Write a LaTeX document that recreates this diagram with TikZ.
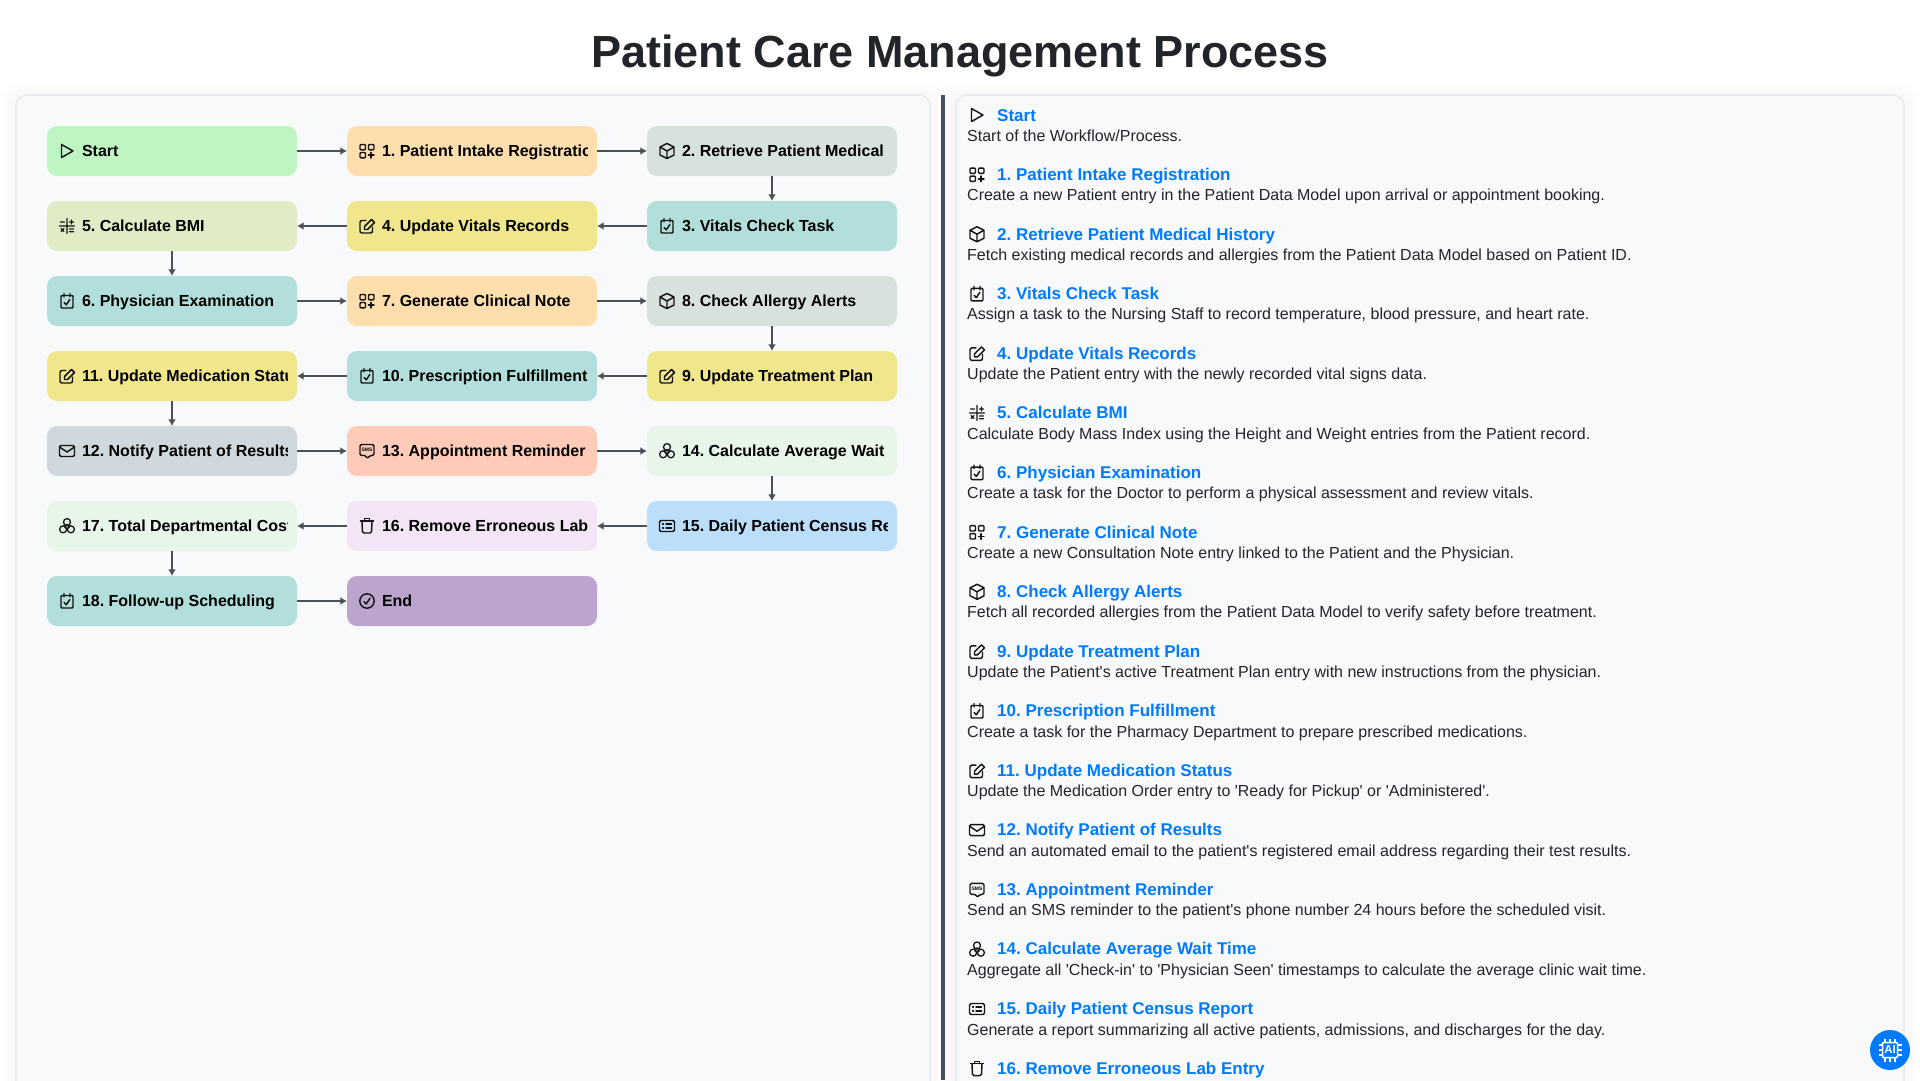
\documentclass[tikz,border=0pt]{standalone}
\usepackage{fontspec}
\usepackage{tikz}
\usetikzlibrary{arrows,arrows.meta,shapes,positioning}
\newfontfamily\uifont{Liberation Sans}
\frenchspacing

\definecolor{panelfill}{HTML}{F8F9FB}
\definecolor{panelline}{HTML}{E9EBEF}
\definecolor{flowline}{HTML}{495057}
\definecolor{divider}{HTML}{4A5064}
\definecolor{inktext}{HTML}{212529}
\definecolor{linkblue}{HTML}{007BFF}
\definecolor{startgreen}{HTML}{BFF5C3}
\definecolor{formorange}{HTML}{FFDEAD}
\definecolor{querygrey}{HTML}{D8E2DC}
\definecolor{taskteal}{HTML}{B2DFDB}
\definecolor{updatekhaki}{HTML}{F0E68C}
\definecolor{calcgreen}{HTML}{DFECC5}
\definecolor{mailgrey}{HTML}{CFD8DC}
\definecolor{smspeach}{HTML}{FFCBB9}
\definecolor{statgreen}{HTML}{E8F5E9}
\definecolor{reportblue}{HTML}{BBDEFB}
\definecolor{trashpink}{HTML}{F3E5F5}
\definecolor{endpurple}{HTML}{BBA5CC}

\tikzset{
  iconline/.style={draw=black!92,fill=none,sharp corners,line width=1.45pt,line join=round,line cap=round},
  playicon/.pic={\draw[iconline] (-5.5,-6.5) -- (-5.5,6.5) -- (6,0) -- cycle;},
  appsicon/.pic={
    \draw[iconline,rounded corners=1pt] (-7,-6.5) rectangle (-1.5,-1.2) (1.5,-6.5) rectangle (7,-1.2) (-7,1.5) rectangle (-1.5,6.8);
    \draw[iconline] (1.5,4.2) -- (7,4.2) (4.2,1.5) -- (4.2,7);},
  cubeicon/.pic={\draw[iconline] (0,-7.5) -- (7,-4) -- (7,4) -- (0,7.5) -- (-7,4) -- (-7,-4) -- cycle (-7,-4) -- (0,0) -- (7,-4) (0,0) -- (0,7.5);},
  checkicon/.pic={
    \draw[iconline,rounded corners=1pt] (-6,-5.5) rectangle (6,7);
    \draw[iconline] (-3,-7.5) -- (-3,-4) (3,-7.5) -- (3,-4) (-2.8,1.6) -- (-0.7,3.8) -- (2.8,-1.4);},
  editicon/.pic={
    \draw[iconline,rounded corners=2pt] (-1,-5.5) -- (-7,-5.5) -- (-7,7) -- (5.5,7) -- (5.5,1);
    \draw[iconline] (-2.5,3.5) -- (-2.5,0.5) -- (4.5,-6.5) -- (7.5,-3.5) -- (0.5,3.5) -- cycle;},
  mathicon/.pic={\draw[iconline,line width=1.2pt] (0,-7.5) -- (0,7.5) (-7.5,0) -- (7.5,0) (-6.5,-4) -- (-2.5,-4) (2.5,-4) -- (6.5,-4) (4.5,-6) -- (4.5,-2) (-6,2.5) -- (-3,5.5) (-3,2.5) -- (-6,5.5) (2.5,3) -- (6.5,3) (2.5,5.8) -- (6.5,5.8);},
  mailicon/.pic={
    \draw[iconline,rounded corners=1.5pt] (-7.5,-5.5) rectangle (7.5,5.5);
    \draw[iconline] (-7.5,-4) -- (0,1) -- (7.5,-4);},
  smsicon/.pic={
    \draw[iconline,rounded corners=1.5pt] (-7,-6.5) -- (7,-6.5) -- (7,4.5) -- (3,4.5) -- (0,7.8) -- (-1,4.5) -- (-7,4.5) -- cycle;
    \node[inner sep=0pt,minimum size=0pt,fill=none,draw=none,text=black] (smsmark) at (0,-1) {\uifont\bfseries\fontsize{5}{5}\selectfont SMS};},
  clustericon/.pic={\draw[iconline,line width=1.3pt] (0,-3.9) circle (3.5) (-3.9,3.3) circle (3.5) (3.9,3.3) circle (3.5);
    \fill[black!92] (0,-1.2) circle (1.2) (-1.6,1.6) circle (1.2) (1.6,1.6) circle (1.2);},
  listicon/.pic={
    \draw[iconline,rounded corners=1.5pt] (-7.5,-5.5) rectangle (7.5,5.5);
    \draw[iconline] (-4.4,-2) -- (-3.6,-2) (-4.4,2) -- (-3.6,2) (-1,-2) -- (4.5,-2) (-1,2) -- (4.5,2);},
  trashicon/.pic={
    \draw[iconline] (-6.5,-5) -- (6.5,-5) (-2.5,-5) -- (-2.5,-7.3) -- (2.5,-7.3) -- (2.5,-5);
    \draw[iconline,rounded corners=1.5pt] (-5,-5) -- (-4.5,7) -- (4.5,7) -- (5,-5);},
  endicon/.pic={
    \draw[iconline] (0,0) circle (7.2);
    \draw[iconline] (-3,0.6) -- (-0.8,3) -- (3,-2.8);},
  flowtext/.style={anchor=base west,inner sep=0pt,outer sep=0pt,minimum size=0pt,fill=none,draw=none,text=black,font=\uifont\bfseries\fontsize{16}{19}\selectfont},
  flowbox/.style n args={3}{fill=#1,rounded corners=10pt,minimum width=250pt,minimum height=50pt,inner sep=0pt,
    path picture={
      \clip ([xshift=10pt]path picture bounding box.south west) rectangle ([xshift=-10pt]path picture bounding box.north east);
      \pic at ([xshift=20pt]path picture bounding box.west) {#2};
      \node[flowtext] at ([xshift=35pt,yshift=-5.6pt]path picture bounding box.west) {#3};
    }},
  flowarrow/.style={->,>={Latex[length=6.5pt,width=8pt]},line width=1.7pt,draw=flowline,shorten >=0pt},
  panelbox/.style={anchor=north west,fill=panelfill,draw=panelline,line width=1.6pt,rounded corners=11pt,inner sep=0pt,outer sep=0pt},
  headtext/.style={anchor=base west,inner sep=0pt,text=linkblue,font=\uifont\bfseries\fontsize{17}{21}\selectfont},
  bodytext/.style={anchor=base west,inner sep=0pt,text=inktext,font=\uifont\fontsize{16}{19}\selectfont},
}

\begin{document}
\begin{tikzpicture}[x=1pt,y=-1pt,node distance=300pt]
  \useasboundingbox (0,0) rectangle (1920,1080);
  \clip (0,0) rectangle (1920,1080);
  \fill[white] (0,0) rectangle (1920,1080);

  \foreach \s in {2,4,...,16}{
    \fill[black,opacity=.005,rounded corners=14pt] ({16-\s},{95-\s+3}) rectangle ({930+\s},1120);
    \fill[black,opacity=.005,rounded corners=14pt] ({956-\s},{95-\s+3}) rectangle ({1904+\s},1120);
  }
  \node[panelbox,minimum width=914pt,minimum height=1020pt] (flowpanel) at (16,95) {};
  \node[panelbox,minimum width=948pt,minimum height=1020pt] (textpanel) at (956,95) {};
  \fill[divider] (941,95) rectangle (945,1080);

  \node[inner sep=0pt,text=inktext,font=\uifont\bfseries\fontsize{45}{52}\selectfont] (title) at (960,55.5) {Patient Care Management Process};

  \node[flowbox={startgreen}{playicon}{Start}] (start) at (172,151) {};
  \node[flowbox={formorange}{appsicon}{1. Patient Intake Registration}] (intake) [right of=start] {};
  \node[flowbox={querygrey}{cubeicon}{2. Retrieve Patient Medical History}] (history) [right of=intake] {};
  \node[flowbox={taskteal}{checkicon}{3. Vitals Check Task}] (vitals) at (772,226) {};
  \node[flowbox={updatekhaki}{editicon}{4. Update Vitals Records}] (records) [left of=vitals] {};
  \node[flowbox={calcgreen}{mathicon}{5. Calculate BMI}] (bmi) [left of=records] {};
  \node[flowbox={taskteal}{checkicon}{6. Physician Examination}] (exam) at (172,301) {};
  \node[flowbox={formorange}{appsicon}{7. Generate Clinical Note}] (note) [right of=exam] {};
  \node[flowbox={querygrey}{cubeicon}{8. Check Allergy Alerts}] (allergy) [right of=note] {};
  \node[flowbox={updatekhaki}{editicon}{9. Update Treatment Plan}] (plan) at (772,376) {};
  \node[flowbox={taskteal}{checkicon}{10. Prescription Fulfillment}] (pharmacy) [left of=plan] {};
  \node[flowbox={updatekhaki}{editicon}{11. Update Medication Status}] (medstatus) [left of=pharmacy] {};
  \node[flowbox={mailgrey}{mailicon}{12. Notify Patient of Results}] (notify) at (172,451) {};
  \node[flowbox={smspeach}{smsicon}{13. Appointment Reminder}] (reminder) [right of=notify] {};
  \node[flowbox={statgreen}{clustericon}{14. Calculate Average Wait Time}] (wait) [right of=reminder] {};
  \node[flowbox={reportblue}{listicon}{15. Daily Patient Census Report}] (census) at (772,526) {};
  \node[flowbox={trashpink}{trashicon}{16. Remove Erroneous Lab Entry}] (remove) [left of=census] {};
  \node[flowbox={statgreen}{clustericon}{17. Total Departmental Cost}] (cost) [left of=remove] {};
  \node[flowbox={taskteal}{checkicon}{18. Follow-up Scheduling}] (followup) at (172,601) {};
  \node[flowbox={endpurple}{endicon}{End}] (finish) [right of=followup] {};

  \begin{scope}[flowarrow]
    \path
    (start) edge (intake)
    (intake) edge (history)
    (history) edge (vitals)
    (vitals) edge (records)
    (records) edge (bmi)
    (bmi) edge (exam)
    (exam) edge (note)
    (note) edge (allergy)
    (allergy) edge (plan)
    (plan) edge (pharmacy)
    (pharmacy) edge (medstatus)
    (medstatus) edge (notify)
    (notify) edge (reminder)
    (reminder) edge (wait)
    (wait) edge (census)
    (census) edge (remove)
    (remove) edge (cost)
    (cost) edge (followup)
    (followup) edge (finish);
  \end{scope}

  \foreach \icon/\head/\body [count=\i from 0] in {
    playicon/{Start}/{Start of the Workflow/Process.},
    appsicon/{1. Patient Intake Registration}/{Create a new Patient entry in the Patient Data Model upon arrival or appointment booking.},
    cubeicon/{2. Retrieve Patient Medical History}/{Fetch existing medical records and allergies from the Patient Data Model based on Patient ID.},
    checkicon/{3. Vitals Check Task}/{Assign a task to the Nursing Staff to record temperature, blood pressure, and heart rate.},
    editicon/{4. Update Vitals Records}/{Update the Patient entry with the newly recorded vital signs data.},
    mathicon/{5. Calculate BMI}/{Calculate Body Mass Index using the Height and Weight entries from the Patient record.},
    checkicon/{6. Physician Examination}/{Create a task for the Doctor to perform a physical assessment and review vitals.},
    appsicon/{7. Generate Clinical Note}/{Create a new Consultation Note entry linked to the Patient and the Physician.},
    cubeicon/{8. Check Allergy Alerts}/{Fetch all recorded allergies from the Patient Data Model to verify safety before treatment.},
    editicon/{9. Update Treatment Plan}/{Update the Patient's active Treatment Plan entry with new instructions from the physician.},
    checkicon/{10. Prescription Fulfillment}/{Create a task for the Pharmacy Department to prepare prescribed medications.},
    editicon/{11. Update Medication Status}/{Update the Medication Order entry to 'Ready for Pickup' or 'Administered'.},
    mailicon/{12. Notify Patient of Results}/{Send an automated email to the patient's registered email address regarding their test results.},
    smsicon/{13. Appointment Reminder}/{Send an SMS reminder to the patient's phone number 24 hours before the scheduled visit.},
    clustericon/{14. Calculate Average Wait Time}/{Aggregate all 'Check-in' to 'Physician Seen' timestamps to calculate the average clinic wait time.},
    listicon/{15. Daily Patient Census Report}/{Generate a report summarizing all active patients, admissions, and discharges for the day.}}{
    \pic at (977,{115+59.6*\i}) {\icon};
    \node[headtext] (head\i) at (997,{121.2+59.55*\i}) {\head};
    \node[bodytext] (body\i) at (967,{141+59.6*\i}) {\body};
  }
  \pic at (977,1068.6) {trashicon};
  \node[headtext] (head16) at (997,1074.2) {16. Remove Erroneous Lab Entry};

  \node[circle,fill=linkblue,minimum size=40pt,inner sep=0pt] (aibutton) at (1890,1050) {};
  \draw[white,line width=1.5pt,rounded corners=1pt] (1882.5,1042.5) rectangle (1897.5,1057.5);
  \foreach \p in {-5,0,5}{
    \draw[white,line width=1.3pt] ({1890+\p},1038.5) -- ({1890+\p},1042) ({1890+\p},1058) -- ({1890+\p},1061.5) (1878.5,{1050+\p}) -- (1882,{1050+\p}) (1898,{1050+\p}) -- (1901.5,{1050+\p});
  }
  \node[inner sep=0pt,text=white,font=\uifont\bfseries\fontsize{11.5}{12}\selectfont] (ailabel) at (1890,1050) {AI};
\end{tikzpicture}
\end{document}
